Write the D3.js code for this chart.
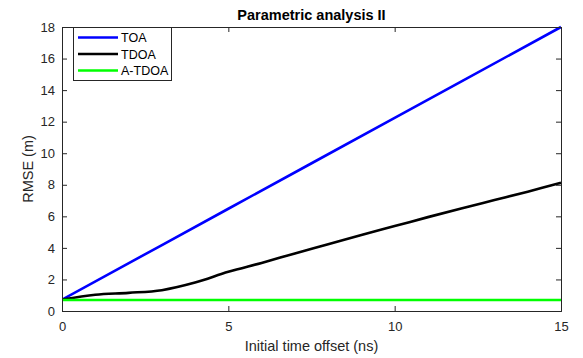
<!DOCTYPE html>
<html>
<head>
<meta charset="utf-8">
<script src="https://cdn.jsdelivr.net/npm/d3@7/dist/d3.min.js"></script>
<style>
  html, body { margin: 0; padding: 0; background: #fff; }
  svg { display: block; font-family: "Liberation Sans", Arial, sans-serif; }
</style>
</head>
<body>
<svg id="chart" width="583" height="358"></svg>
<script>
// Initial time offset (ns) and RMSE (m) for each method
const offsetTOA = [0, 5, 10, 15];
const rmseTOA = [0.72, 6.48, 12.24, 18.0];

const offsetTDOA = [0, 1, 2, 3, 4, 5, 6, 7, 8, 9, 10, 11, 12, 13, 14, 15];
const rmseTDOA = [0.72, 1.03, 1.15, 1.32, 1.8, 2.48, 3.05, 3.65, 4.23, 4.82, 5.38, 5.95, 6.5, 7.03, 7.56, 8.13];

const offsetATDOA = [0, 5, 10, 15];
const rmseATDOA = [0.7, 0.7, 0.7, 0.7];

const xTicks = [0, 5, 10, 15];
const yTicks = [0, 2, 4, 6, 8, 10, 12, 14, 16, 18];

const seriesNames = ["TOA", "TDOA", "A-TDOA"];
const seriesColors = ["#0000ff", "#000000", "#00ff00"];

const series = [
  { name: seriesNames[0], color: seriesColors[0], x: offsetTOA, y: rmseTOA },
  { name: seriesNames[1], color: seriesColors[1], x: offsetTDOA, y: rmseTDOA },
  { name: seriesNames[2], color: seriesColors[2], x: offsetATDOA, y: rmseATDOA }
];

const svg = d3.select("#chart");
const margin = { left: 62, right: 22, top: 27, bottom: 47 };
const W = 583, H = 358;
const axisColor = "#262626";

const x = d3.scaleLinear().domain([0, 15]).range([margin.left, W - margin.right]);
const y = d3.scaleLinear().domain([0, 18]).range([H - margin.bottom, margin.top]);

// Plot lines, clipped to the axes box
svg.append("clipPath").attr("id", "plotClip")
  .append("rect")
  .attr("x", x(0)).attr("y", y(18) - 2)
  .attr("width", x(15) - x(0) + 2).attr("height", y(0) - y(18) + 2);

const line = d3.line().curve(d3.curveCatmullRom);
const plot = svg.append("g").attr("clip-path", "url(#plotClip)");
series.forEach(s => {
  plot.append("path")
    .attr("d", line(s.x.map((v, i) => [x(v), y(s.y[i])])))
    .attr("fill", "none")
    .attr("stroke", s.color)
    .attr("stroke-width", 2.6)
    .attr("stroke-linejoin", "round");
});

// Axes: ticks point inward, labels outside
const xAxis = svg.append("g")
  .attr("transform", `translate(0,${y(0)})`)
  .call(d3.axisBottom(x).tickValues(xTicks).tickSize(-5).tickPadding(11).tickFormat(d3.format("d")));
const yAxis = svg.append("g")
  .attr("transform", `translate(${x(0)},0)`)
  .call(d3.axisLeft(y).tickValues(yTicks).tickSize(-5).tickPadding(7).tickFormat(d3.format("d")));
const xTop = svg.append("g")
  .attr("transform", `translate(0,${y(18)})`)
  .call(d3.axisTop(x).tickValues(xTicks).tickSize(-5).tickFormat(""));
const yRight = svg.append("g")
  .attr("transform", `translate(${x(15)},0)`)
  .call(d3.axisRight(y).tickValues(yTicks).tickSize(-5).tickFormat(""));

[xAxis, yAxis, xTop, yRight].forEach(g => {
  g.select(".domain").attr("stroke", axisColor).attr("stroke-width", 1);
  g.selectAll(".tick line").attr("stroke", axisColor).attr("stroke-width", 1);
  g.selectAll(".tick text").attr("fill", axisColor).style("font-size", "13px")
    .style("font-family", "'Liberation Sans', Arial, sans-serif");
});

// Title and axis labels
svg.append("text")
  .attr("x", (x(0) + x(15)) / 2).attr("y", 19.5)
  .attr("text-anchor", "middle")
  .attr("fill", "#000")
  .style("font-size", "14.5px").style("font-weight", "bold")
  .text("Parametric analysis II");

svg.append("text")
  .attr("x", (x(0) + x(15)) / 2).attr("y", 350.5)
  .attr("text-anchor", "middle")
  .attr("fill", axisColor)
  .style("font-size", "14.5px")
  .text("Initial time offset (ns)");

svg.append("text")
  .attr("transform", `translate(32.5,${(y(0) + y(18)) / 2}) rotate(-90)`)
  .attr("text-anchor", "middle")
  .attr("fill", axisColor)
  .style("font-size", "14.5px")
  .text("RMSE (m)");

// Legend
const lg = svg.append("g").attr("transform", "translate(73.5,27.5)");
lg.append("rect")
  .attr("width", 98).attr("height", 53)
  .attr("fill", "#fff").attr("stroke", axisColor).attr("stroke-width", 1);
series.forEach((s, i) => {
  const cy = 10 + i * 16.5;
  lg.append("line")
    .attr("x1", 4.5).attr("x2", 44.5).attr("y1", cy).attr("y2", cy)
    .attr("stroke", s.color).attr("stroke-width", 2.6);
  lg.append("text")
    .attr("x", 47.5).attr("y", cy + 4.5)
    .attr("fill", "#000")
    .style("font-size", "12.5px")
    .text(s.name);
});
</script>
</body>
</html>
